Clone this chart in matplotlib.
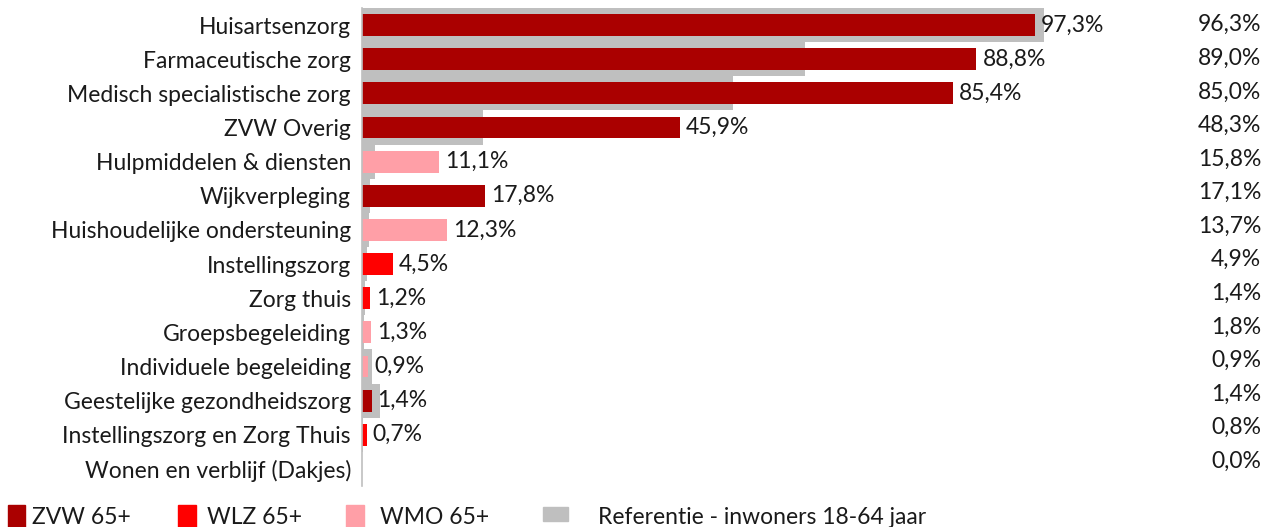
import matplotlib.pyplot as plt
from matplotlib.patches import Rectangle

# categories top to bottom
categories = [
    "Huisartsenzorg", "Farmaceutische zorg", "Medisch specialistische zorg",
    "ZVW Overig", "Hulpmiddelen & diensten", "Wijkverpleging",
    "Huishoudelijke ondersteuning", "Instellingszorg", "Zorg thuis",
    "Groepsbegeleiding", "Individuele begeleiding", "Geestelijke gezondheidszorg",
    "Instellingszorg en Zorg Thuis", "Wonen en verblijf (Dakjes)",
]
# value for 65+ and which scheme it belongs to
values_65 = [97.3, 88.8, 85.4, 45.9, 11.1, 17.8, 12.3, 4.5, 1.2, 1.3, 0.9, 1.4, 0.7, 0.0]
scheme = ["ZVW", "ZVW", "ZVW", "ZVW", "WMO", "ZVW", "WMO", "WLZ", "WLZ",
          "WMO", "WMO", "ZVW", "WLZ", "WMO"]
# reference group 18-64 (grey bars)
reference = [98.5, 64.0, 53.6, 17.5, 1.9, 1.2, 1.0, 0.7, 0.4, 0.3, 1.5, 2.6, 0.1, 0.0]
# right-hand column
right_column = [96.3, 89.0, 85.0, 48.3, 15.8, 17.1, 13.7, 4.9, 1.4, 1.8, 0.9, 1.4, 0.8, 0.0]

colors = {"ZVW": "#AA0000", "WLZ": "#FF0000", "WMO": "#FF9FA7"}
grey = "#BFBFBF"
legend_items = [("ZVW 65+", colors["ZVW"]), ("WLZ 65+", colors["WLZ"]),
                ("WMO 65+", colors["WMO"]), ("Referentie - inwoners 18-64 jaar", grey)]

plt.rcParams["font.family"] = ["Lato", "DejaVu Sans"]
FS = 16.5
W, H = 1264, 527
fig = plt.figure(figsize=(W / 100, H / 100), dpi=100)


def fx(px):
    return px / W


def fy(px):
    return 1 - px / H


# main axes: x=0 at 362px, 100% at 1054px; rows from 8 to 486px
ax = fig.add_axes([fx(362), fy(486), fx(1054) - fx(362), fy(8) - fy(486)])
n = len(categories)
pos = list(range(n))

ax.barh(pos, reference, height=1.0, color=grey, zorder=1)
ax.barh(pos, values_65, height=0.64, color=[colors[s] for s in scheme], zorder=2)

for p, v in zip(pos, values_65):
    if v > 0:
        ax.text(v + 0.85, p, f"{v:.1f}%".replace(".", ","), va="center", ha="left",
                fontsize=FS, color="#1a1a1a", zorder=3)

ax.set_xlim(0, 100)
ax.set_ylim(n - 0.5, -0.5)
ax.set_yticks(pos)
ax.set_yticklabels(categories, fontsize=FS, color="#1a1a1a")
ax.tick_params(axis="y", length=0, pad=8)
ax.set_xticks([])
for side in ["top", "right", "bottom"]:
    ax.spines[side].set_visible(False)
ax.spines["left"].set_color(grey)
ax.spines["left"].set_linewidth(1.2)
ax.spines["left"].set_zorder(4)

# right-hand column, slightly tighter row spacing
axr = fig.add_axes([fx(1100), fy(478), fx(1261) - fx(1100), fy(8) - fy(478)])
axr.set_xlim(0, 1)
axr.set_ylim(n - 0.5, -0.5)
axr.axis("off")
for p, v in zip(pos, right_column):
    axr.text(1, p, f"{v:.1f}%".replace(".", ","), ha="right", va="center",
             fontsize=FS, color="#1a1a1a")

# legend along the bottom edge
legend_pos = [(8, 25, 505, 527, 32), (178, 196, 505, 527, 207),
              (346, 364, 505, 527, 380), (543, 568, 507, 521, 598)]
for (label, col), (x0, x1, y0, y1, tx) in zip(legend_items, legend_pos):
    fig.patches.append(Rectangle((fx(x0), fy(y1)), fx(x1) - fx(x0), fy(y0) - fy(y1),
                                 transform=fig.transFigure, color=col))
    fig.text(fx(tx), fy(518), label, ha="left", va="center", fontsize=FS,
             color="#1a1a1a")

fig.savefig("out.png", dpi=100)
